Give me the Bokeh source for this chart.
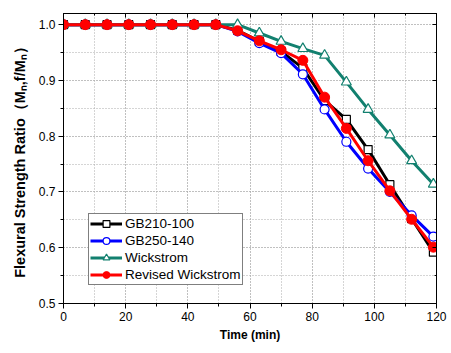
from bokeh.plotting import figure
from bokeh.models import (Range1d, SingleIntervalTicker, LinearAxis, Legend, LegendItem,
                          PrintfTickFormatter, CustomJSTickFormatter)
from bokeh.embed import file_html
from bokeh.resources import INLINE

# ---- data ----
time_min = [0, 7, 14, 21, 28, 35, 42, 49, 56, 63, 70, 77, 84, 91, 98, 105, 112, 119]
gb210_100 = [1.0, 1.0, 1.0, 1.0, 1.0, 1.0, 1.0, 1.0, 0.990, 0.970, 0.952, 0.922,
             0.864, 0.830, 0.776, 0.713, 0.652, 0.592]
gb250_140 = [1.0, 1.0, 1.0, 1.0, 1.0, 1.0, 1.0, 1.0, 0.988, 0.967, 0.949, 0.911,
             0.848, 0.790, 0.742, 0.700, 0.658, 0.620]
wickstrom = [1.0, 1.0, 1.0, 1.0, 1.0, 1.0, 1.0, 1.0, 1.0, 0.985, 0.970, 0.957,
             0.945, 0.897, 0.848, 0.802, 0.756, 0.714]
revised_wickstrom = [1.0, 1.0, 1.0, 1.0, 1.0, 1.0, 1.0, 1.0, 0.989, 0.971, 0.955, 0.936,
                     0.870, 0.814, 0.756, 0.702, 0.651, 0.601]
series_names = ["GB210-100", "GB250-140", "Wickstrom", "Revised Wickstrom"]

FONT = "Liberation Sans"
BLACK = "#000000"
BLUE = "#0000ff"
TEAL = "#12806f"
RED = "#ff0000"

p = figure(width=451, height=353, output_backend="svg", toolbar_location=None,
           x_range=Range1d(0, 120), y_range=Range1d(0.5, 1.02))
p.min_border_left = 63
p.min_border_right = 15
p.min_border_top = 13
p.min_border_bottom = 50
p.outline_line_color = "black"
p.outline_line_width = 1
p.background_fill_color = "white"
p.border_fill_color = "white"

p.xaxis.ticker = SingleIntervalTicker(interval=20, num_minor_ticks=2)
p.yaxis.ticker = SingleIntervalTicker(interval=0.1, num_minor_ticks=2)
p.yaxis.formatter = PrintfTickFormatter(format="%.1f")
for ax in (p.xaxis[0], p.yaxis[0]):
    ax.major_label_text_font = FONT
    ax.major_label_text_font_size = "12px"
    ax.major_label_text_color = "black"
    ax.axis_label_text_font = FONT
    ax.axis_label_text_font_style = "bold"
    ax.axis_label_text_color = "black"
    ax.major_tick_out = 5
    ax.major_tick_in = 0
    ax.minor_tick_out = 3
    ax.minor_tick_in = 0
    ax.axis_line_color = "black"
    ax.major_tick_line_color = "black"
    ax.minor_tick_line_color = "black"
    ax.major_label_standoff = 3
p.xaxis.axis_label = "Time (min)"
p.xaxis.axis_label_text_font_size = "12px"
p.xaxis.axis_label_standoff = 4
p.yaxis.axis_label = "Flexural Strength Ratio（Mₙ,f/Mₙ）"
p.yaxis.axis_label_text_font_size = "14.5px"
p.yaxis.axis_label_standoff = 8

# mirror axes with inward ticks, no labels
blank = CustomJSTickFormatter(code="return ''")
right = LinearAxis(ticker=SingleIntervalTicker(interval=0.1, num_minor_ticks=2),
                   formatter=blank, major_tick_in=4, major_tick_out=0,
                   minor_tick_in=2, minor_tick_out=0, major_label_standoff=0,
                   axis_line_color="black")
p.add_layout(right, "right")
top = LinearAxis(ticker=SingleIntervalTicker(interval=20, num_minor_ticks=2),
                 formatter=blank, major_tick_in=4, major_tick_out=0,
                 minor_tick_in=2, minor_tick_out=0, major_label_standoff=0,
                 axis_line_color="black")
p.add_layout(top, "above")

for g in (p.xgrid[0], p.ygrid[0]):
    g.grid_line_color = "#aaaaaa"
    g.grid_line_dash = "1 2"
    g.grid_line_width = 1
    g.minor_grid_line_color = "#aaaaaa"
    g.minor_grid_line_dash = "1 2"
    g.minor_grid_line_width = 1

LW = 3
items = []
l1 = p.line(time_min, gb210_100, line_color=BLACK, line_width=LW)
m1 = p.scatter(time_min, gb210_100, marker="square", size=8, line_color=BLACK,
               fill_color="white", line_width=1.2)
items.append(LegendItem(label=series_names[0], renderers=[l1, m1]))

l2 = p.line(time_min, gb250_140, line_color=BLUE, line_width=LW)
m2 = p.scatter(time_min, gb250_140, marker="circle", size=9, line_color=BLUE,
               fill_color="white", line_width=1.2)
items.append(LegendItem(label=series_names[1], renderers=[l2, m2]))

l3 = p.line(time_min, wickstrom, line_color=TEAL, line_width=LW)
m3 = p.scatter(time_min, wickstrom, marker="triangle", size=10, line_color=TEAL,
               fill_color="white", line_width=1.2)
items.append(LegendItem(label=series_names[2], renderers=[l3, m3]))

l4 = p.line(time_min, revised_wickstrom, line_color=RED, line_width=LW)
m4 = p.scatter(time_min, revised_wickstrom, marker="circle", size=10, line_color=RED,
               fill_color=RED, line_width=1)
items.append(LegendItem(label=series_names[3], renderers=[l4, m4]))

legend = Legend(items=items, location=(25, 18))
legend.label_text_font = FONT
legend.label_text_font_size = "13.5px"
legend.label_text_color = "black"
legend.glyph_width = 32
legend.glyph_height = 17
legend.label_height = 17
legend.spacing = 0
legend.padding = 1
legend.margin = 0
legend.label_standoff = 3
legend.border_line_color = "black"
legend.border_line_width = 1
legend.background_fill_color = "white"
legend.background_fill_alpha = 1
p.add_layout(legend, "center")

open("out.html", "w").write(file_html(p, INLINE))
